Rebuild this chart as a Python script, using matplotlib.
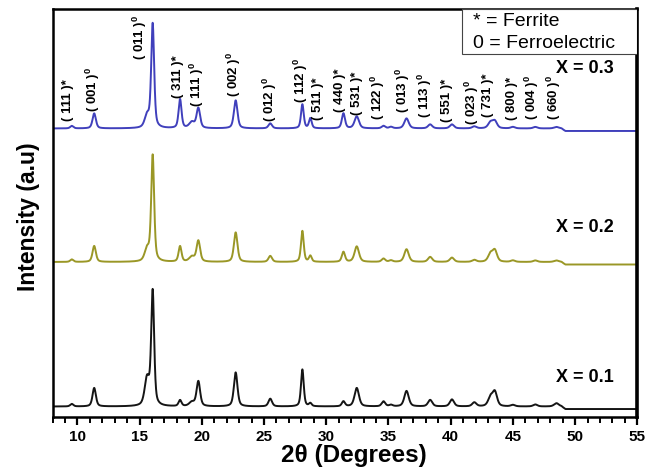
import matplotlib
matplotlib.use("Agg")
import matplotlib.pyplot as plt
import numpy as np
from matplotlib.patches import Rectangle

plt.rcParams["font.family"] = ["Liberation Sans", "DejaVu Sans"]
plt.rcParams["mathtext.fontset"] = "custom"
plt.rcParams["mathtext.rm"] = "Liberation Sans:bold"
plt.rcParams["mathtext.bf"] = "Liberation Sans:bold"

# Reflection positions (2theta, degrees) shared by the three patterns
peak_pos = [9.55, 11.35, 15.6, 16.05, 18.25, 19.2, 19.72, 22.72, 25.5, 28.08,
            28.72, 31.38, 32.45, 34.6, 35.2, 36.45, 38.35, 40.1, 41.9, 43.2,
            43.55, 45.0, 46.8, 48.5]
peak_fwhm = [0.3, 0.32, 0.45, 0.28, 0.28, 0.5, 0.34, 0.34, 0.34, 0.26,
             0.26, 0.3, 0.42, 0.34, 0.34, 0.42, 0.4, 0.4, 0.4, 0.45,
             0.42, 0.4, 0.4, 0.45]

# Peak heights (a.u.) for each composition
int_x03 = [2.5, 15, 12, 104, 29, 6, 20, 28, 5, 24,
           10, 15, 12, 2.5, 1.5, 10, 4, 4, 2, 6,
           7, 1.5, 1.5, 1.5]
int_x02 = [2.5, 16, 12, 106, 15.5, 5, 21, 29.5, 6, 31,
           6, 10, 15.5, 3.3, 1.5, 12.7, 5, 4.3, 2, 8,
           11, 1.5, 1.5, 1.5]
int_x01 = [2.5, 18.5, 27, 114, 6, 4, 25, 34, 7.7, 37,
           3, 5, 18.5, 5, 1.5, 15.5, 6.5, 7, 4, 9,
           14, 1.5, 2, 3.3]

offsets = {"x01": 8.0, "x02": 152.5, "x03": 286.0}
series_labels = ["X = 0.1", "X = 0.2", "X = 0.3"]
series_label_y = [39.5, 189.5, 348.0]
colors = ["#151515", "#9a9726", "#4040bc"]

# hkl annotations on the top pattern: text, 2theta, bottom of label
hkl_text = ["( 111 )*", "( 001 )$^{0}$", "( 011 )$^{0}$", "( 311 )*", "( 111 )$^{0}$",
            "( 002 )$^{0}$", "( 012 )$^{0}$", "( 112 )$^{0}$", "( 511 )*", "( 440 )*",
            "( 531 )*", "( 122 )$^{0}$", "( 013 )$^{0}$", "( 113 )$^{0}$", "( 551 )*",
            "( 023 )$^{0}$", "( 731 )*", "( 800 )*", "( 004 )$^{0}$", "( 660 )$^{0}$"]
hkl_x = [9.27, 11.28, 15.03, 18.11, 19.59, 22.59, 25.48, 27.95, 29.34, 31.11,
         32.48, 34.17, 36.18, 37.94, 39.69, 41.70, 43.03, 44.91, 46.52, 48.26]
hkl_y = [296, 305, 357, 319, 310, 320, 295, 314, 297, 305,
         302, 297, 304, 299, 295, 292, 300, 297, 297, 297]


def pattern(tt, heights, base):
    y = np.zeros_like(tt)
    for c, h, w in zip(peak_pos, heights, peak_fwhm):
        g = w / 2.0
        y += h * (0.5 * g**2 / ((tt - c) ** 2 + g**2)
                  + 0.5 * np.exp(-4 * np.log(2) * (tt - c) ** 2 / w**2))
    # measured range stops near 49 deg, after which the trace runs flat
    step = np.interp(tt, [8, 48.9, 49.2, 55], [2.5, 2.5, 0, 0])
    return base + y * (tt < 49.2) + step


tt = np.linspace(8, 55, 6000)

fig = plt.figure(figsize=(6.58, 4.71), dpi=100)
ax = fig.add_axes([0.0798, 0.1146, 0.8888, 0.8664])

for key, heights, col in [("x01", int_x01, colors[0]),
                          ("x02", int_x02, colors[1]),
                          ("x03", int_x03, colors[2])]:
    ax.plot(tt, pattern(tt, heights, offsets[key]), color=col, lw=1.4)

for lab, yy in zip(series_labels, series_label_y):
    ax.text(50.8, yy, lab, ha="center", va="center", fontsize=13, fontweight="bold")

for t, xx, yy in zip(hkl_text, hkl_x, hkl_y):
    ax.text(xx, yy, t, rotation=90, ha="center", va="bottom",
            fontsize=9.5, fontweight="bold")

# phase key in the upper right corner
ax.add_patch(Rectangle((40.9, 363), 55 - 40.9, 45, facecolor="white",
                       edgecolor="#444444", lw=0.8, zorder=3))
ax.text(41.8, 395.5, "* = Ferrite", ha="left", va="center", fontsize=14, zorder=4)
ax.text(41.8, 373.5, "0 = Ferroelectric", ha="left", va="center", fontsize=14, zorder=4)

ax.set_xlim(8, 55)
ax.set_ylim(0, 408)
ax.set_xticks(np.arange(10, 56, 5))
ax.set_xticks(np.arange(8, 56, 1), minor=True)
ax.set_yticks([])
ax.tick_params(axis="x", which="major", direction="out", length=6, width=1.6,
               labelsize=11, pad=3)
ax.tick_params(axis="x", which="minor", direction="out", length=4, width=1.4)
for lab in ax.get_xticklabels():
    lab.set_fontweight("bold")
for s in ax.spines.values():
    s.set_linewidth(1.8)
ax.spines["right"].set_linewidth(2.6)

ax.set_xlabel("2θ (Degrees)", fontsize=17.5, fontweight="bold")
ax.xaxis.set_label_coords(0.516, -0.066)
ax.set_ylabel("Intensity (a.u)", fontsize=16.5, fontweight="bold")
ax.yaxis.set_label_coords(-0.022, 0.49)

fig.savefig("out.png", dpi=100)
